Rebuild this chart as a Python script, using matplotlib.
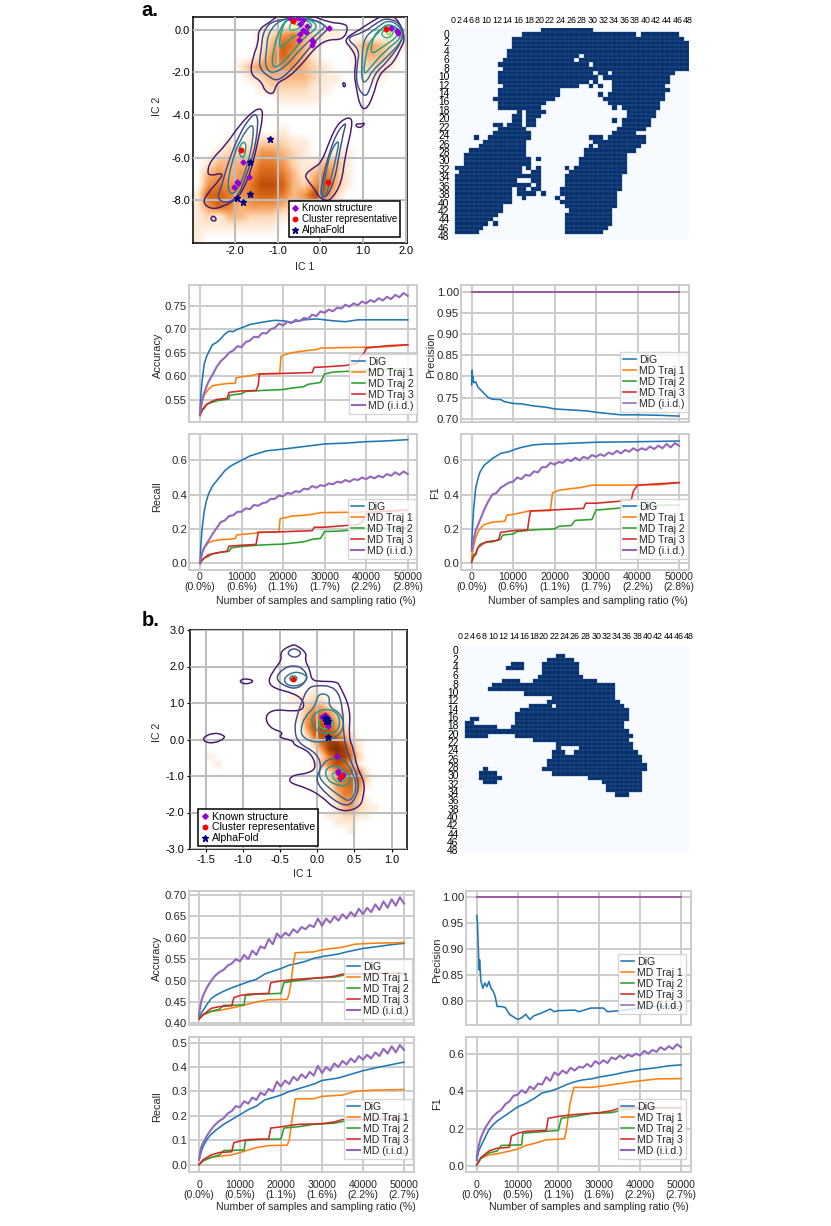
import numpy as np
import matplotlib
matplotlib.use('Agg')
import matplotlib.pyplot as plt
from matplotlib.colors import LinearSegmentedColormap
from matplotlib.lines import Line2D
from matplotlib.path import Path
from matplotlib.patches import PathPatch

W, H = 831, 1226
plt.rcParams['font.family'] = ['Liberation Sans', 'DejaVu Sans']
plt.rcParams['axes.unicode_minus'] = False
FS = 7.9

SERIES = ['DiG', 'MD Traj 1', 'MD Traj 2', 'MD Traj 3', 'MD (i.i.d.)']
COLORS = ['#1f77b4', '#ff7f0e', '#2ca02c', '#d62728', '#9467bd']
LEVEL_COLORS = ['#47186e', '#3f4a8a', '#31708e', '#26958c', '#1fa187', '#35b779', '#8fd744']

##### density of the IC maps, one digit per cell #####
density_a = [
    '',
    '00000012453211000011',
    '00000013653100024321',
    '00000024643100013320',
    '00001344443210012210',
    '00000123333211001100',
    '00000012222110000000',
    '00000000111100000000',
    '',
    '',
    '000000001',
    '00010122211',
    '001222443210011',
    '013333554211331',
    '034344665313531',
    '045445776324631',
    '16654566534752',
    '14653444323421',
    '121332221111',
    '11111111',
    '1',
]
density_b = [
    '0000000000000001',
    '00000000000011121',
    '000000000000012331',
    '00000000000001355421',
    '00000000000001466531',
    '00000000000000477642',
    '000000000000002677531',
    '0000000000000003688621',
    '0000000000000001489841',
    '0100000000000000258852',
    '0010000000000001357631',
    '00000000000000000246641',
    '00000000000000000245652',
    '00000000000000000145641',
    '0000000000000000013553',
    '00000000000000000024421',
    '000000000000000000134211',
    '00000000000000000112211',
    '000000000000000000111',
    '000000000000000000001',
]

##### contours of the IC maps (IC 1, IC 2), grouped by level #####
contours_a = [
    [[(-1.18,.36),(-1.45,.02),(-1.45,-.61),(-1.57,-1.23),(-1.65,-2.09),(-1.38,-2.41),(-1.30,-2.88),(-1.10,-3.06),
      (-1.02,-2.48),(-.75,-2.25),(-.40,-1.55),(-.16,-.92),(.15,-.45),(.54,-.47),(.66,.12),(.54,.30),(.23,.33),(-.24,.70),(-.95,.72)],
     [(.54,-.45),(.93,.02),(1.16,.33),(1.48,.70),(1.79,.62),(2.0,-.38),(1.87,-.92),(1.71,-1.55),(1.55,-1.78),(1.36,-2.17),
      (1.24,-3.11),(1.07,-3.77),(.93,-3.58),(.85,-2.80),(.79,-2.09),(.85,-1.31),(.72,-.85)],
     [(-1.38,-3.66),(-1.34,-4.05),(-1.45,-5.14),(-1.61,-6.55),(-1.77,-7.33),(-1.92,-7.88),(-2.27,-8.3),(-2.55,-8.42),
      (-2.76,-8.11),(-2.63,-7.64),(-2.35,-7.02),(-2.27,-6.7),(-2.59,-6.86),(-2.65,-6.63),(-2.55,-6.08),(-2.23,-5.45),(-1.88,-4.44),(-1.57,-3.81)],
     [(.7,-4.05),(.76,-4.44),(.58,-5.92),(.5,-7.17),(.27,-7.95),(.11,-8.03),(-.05,-7.8),(-.13,-7.48),(-.32,-7.02),
      (-.36,-6.78),(-.16,-6.47),(.03,-6.23),(.23,-5.14),(.42,-4.36)],
     [(.81,-4.42),(.95,-4.42),(1.05,-4.36),(.98,-4.55),(.88,-4.6)],
     [(-2.5,-8.7),(-2.42,-8.9),(-2.5,-9.0),(-2.58,-8.85)],
     [(.55,-2.45),(.6,-2.6),(.55,-2.7),(.52,-2.55)]],
    [[(-1.34,-.06),(-1.38,-.92),(-1.45,-1.78),(-1.18,-2.25),(-.98,-2.41),(-.63,-1.78),(-.32,-1.0),(.03,-.22),(.23,.09),(-.24,.56),(-1.10,.48)],
     [(.58,-.38),(1.01,-.14),(1.32,.33),(1.55,.56),(1.87,.33),(1.98,-.38),(1.55,-1.55),(1.28,-2.02),(1.16,-2.8),(1.05,-3.19),(.85,-2.64),(.85,-1.7),(.93,-.92)],
     [(-1.49,-3.89),(-1.45,-4.52),(-1.57,-5.92),(-1.77,-7.02),(-1.92,-7.8),(-2.16,-8.14),(-2.43,-7.95),(-2.31,-7.33),(-2.16,-6.23),(-1.88,-4.83),(-1.65,-4.13)],
     [(.62,-4.28),(.54,-4.83),(.42,-6.08),(.34,-7.02),(.15,-7.88),(-.01,-7.8),(.07,-6.86),(.19,-5.92),(.38,-4.83)]],
    [[(-1.22,-.14),(-1.26,-.92),(-1.30,-1.70),(-1.14,-2.09),(-.79,-1.70),(-.48,-.92),(0,-.06),(.15,.25),(-.4,.64),(-.95,.48)],
     [(1.01,-.38),(1.32,.09),(1.59,.48),(1.87,.17),(1.96,-.42),(1.55,-1.31),(1.2,-1.94),(1.1,-2.41),(.97,-2.48),(.97,-1.55)],
     [(-1.57,-4.28),(-1.57,-5.14),(-1.69,-6.23),(-1.88,-7.33),(-2.08,-7.8),(-2.18,-7.33),(-2.08,-6.23),(-1.88,-5.14)],
     [(.46,-5.14),(.34,-6.23),(.23,-7.17),(.11,-7.88),(.05,-7.8),(.15,-6.39),(.3,-5.45)]],
    [[(-.98,-.14),(-1.10,-.92),(-1.14,-1.78),(-.95,-1.70),(-.63,-1.0),(-.40,-.38),(0,.17),(-.4,.64),(-.79,.56)],
     [(1.13,-.61),(1.36,-.14),(1.55,.3),(1.83,.09),(1.91,-.38),(1.55,-.92),(1.2,-1.7),(1.01,-2.17),(1.05,-1.39)],
     [(-1.77,-5.22),(-1.73,-5.53),(-1.8,-6.08),(-1.92,-5.77),(-1.87,-5.38)]],
    [[(-.91,.02),(-.98,-.92),(-.79,-.61),(-.63,-.3),(-.09,.17),(-.48,.61),(-.79,.48)],
     [(1.24,-.3),(1.4,.02),(1.59,.25),(1.79,.02),(1.83,-.3),(1.48,-.77),(1.16,-1.23)]],
    [[(-.71,.33),(-.73,-.14),(-.32,.25),(-.55,.56)],
     [(1.4,-.22),(1.55,.09),(1.75,-.06),(1.59,-.45)]],
    [[(-.63,.48),(-.48,.25),(-.55,.2),(-.65,.3)],
     [(1.52,.02),(1.67,-.06),(1.59,-.3)]],
]
contours_b = [
    [[(-.35,2.59),(-.5,2.41),(-.48,2.18),(-.57,1.95),(-.67,1.61),(-.59,1.4),(-.32,1.27),(-.19,1.08),(-.18,.83),(-.32,.77),(-.59,.83),
      (-.71,.63),(-.64,.31),(-.45,.19),(-.53,.06),(-.32,-.03),(-.32,-.15),(-.1,-.33),(-.01,-.74),(-.1,-.92),(-.35,-.98),(-.39,-1.18),
      (-.14,-1.33),(.06,-1.56),(.22,-1.88),(.4,-1.98),(.58,-1.83),(.62,-1.56),(.64,-1.19),(.53,-.74),(.49,-.28),(.42,.08),(.45,.81),
      (.31,1.45),(.26,1.59),(.04,1.59),(-.08,1.63),(-.1,1.91),(-.17,2.18),(-.14,2.36),(-.28,2.59)],
     [(-1.55,.05),(-1.4,.19),(-1.27,.13),(-1.24,.04),(-1.38,-.1),(-1.51,-.08)],
     [(-1.06,1.6),(-.97,1.68),(-.84,1.6),(-.97,1.5)]],
    [[(-.42,2.36),(-.32,2.52),(-.2,2.38),(-.3,2.22)],
     [(-.57,1.68),(-.46,1.95),(-.32,2.04),(-.19,1.95),(-.12,1.68),(-.26,1.38),(-.44,1.45)],
     [(-.05,1.49),(.26,1.45),(.35,.81),(.35,.08),(.42,-.46),(.58,-1.19),(.49,-1.74),(.35,-1.83),(.1,-1.47),(-.03,-1.1),(.06,-.74),
      (-.01,-.37),(-.26,-.1),(-.31,.26),(-.28,.63),(-.19,1.13),(-.14,1.36)]],
    [[(-.46,1.68),(-.32,1.86),(-.19,1.81),(-.12,1.68),(-.23,1.47),(-.41,1.47)],
     [(.01,1.27),(.17,1.22),(.15,.9),(.31,.72),(.37,.36),(.26,.04),(-.01,-.1),(-.19,.04),(-.23,.26),(-.17,.63),(-.03,.9)],
     [(.17,-.51),(.35,-.51),(.49,-.92),(.53,-1.38),(.44,-1.72),(.31,-1.56),(.13,-1.29),(.01,-1.01),(.06,-.69)]],
    [[(-.39,1.68),(-.32,1.77),(-.26,1.68),(-.32,1.56)],
     [(-.1,.58),(.04,.83),(.22,.81),(.31,.58),(.28,.22),(.13,.15),(-.03,.26)],
     [(.1,-.83),(.22,-.69),(.37,-.83),(.46,-1.06),(.4,-1.29),(.24,-1.24),(.13,-1.1)]],
    [],
    [[(-.01,.49),(.13,.67),(.24,.49),(.19,.31),(.06,.28)],
     [(.19,-.92),(.31,-.83),(.4,-1.06),(.33,-1.19),(.22,-1.12)]],
    [],
]

##### points on the IC maps #####
known_a = [(-.71,.56),(-.63,.48),(-.53,.56),(-.4,.45),(-.48,.25),(-.32,.2),(-.4,-.02),(-.48,-.22),(-.34,-.11),(-.5,-.48),(-.2,-.48),
           (-.16,-.58),(-.19,-.72),(.21,.09),(1.79,-.06),(1.83,-.14),(1.65,.1),(-1.82,-6.2),(-1.95,-7.15),(-2.02,-7.35),(-1.67,-6.9),(-1.92,-7.2)]
rep_a = [(-.63,.4),(1.55,.05),(-1.85,-5.65),(.17,-7.12)]
af_a = [(-1.18,-5.1),(-1.65,-6.2),(-1.65,-7.7),(-1.94,-7.88),(-1.82,-8.1)]
known_b = [(.06,.61),(.1,.67),(.13,.63),(.15,.49),(.15,.36),(.26,-.45),(.28,-.86),(.3,-1.06),(.35,-.98),(.28,-.92)]
rep_b = [(-.33,1.67),(.13,.5),(.32,-1.0)]
af_b = [(.1,.6),(.13,.55),(.15,.5),(.12,.52),(.14,.08)]

##### contact maps: filled runs (first col, stop col) per row #####
contact_a = [
    [(18,29)], [(14,38),(39,47)], [(12,48)], [(12,49)], [(12,49)], [(11,49)], [(11,26),(27,49)], [(10,25),(26,49)],
    [(9,28),(29,49)], [(10,49)], [(9,29),(30,32),(33,46)], [(9,30),(31,45)], [(9,28),(29,30),(33,45)],
    [(10,26),(28,29),(30,31),(33,44)], [(9,22),(33,45)], [(9,22),(30,31),(32,44)], [(8,21),(31,44)], [(9,19),(32,43)],
    [(9,18),(33,34),(35,43)], [(13,14),(15,19),(36,42)], [(12,14),(15,18),(36,42)], [(12,14),(15,17),(33,34),(35,41)],
    [(8,10),(11,14),(15,17),(35,41)], [(9,15),(34,40)], [(8,16),(33,38)], [(4,5),(7,16),(28,31),(32,40)],
    [(6,15),(29,40)], [(5,15),(28,29),(30,39)], [(3,15),(27,38)], [(2,15),(27,36)], [(2,16),(17,18),(26,36)],
    [(2,16),(26,36)], [(0,14),(15,16),(17,18),(23,24),(25,36)], [(1,14),(16,18),(24,36)], [(0,18),(23,35)],
    [(0,13),(16,18),(23,35)], [(0,16),(17,18),(23,35)], [(0,12),(13,15),(16,18),(22,35)], [(0,12),(13,17),(18,19),(22,34)],
    [(0,12),(14,15),(21,22),(23,34)], [(0,12),(22,34)], [(0,10),(23,34)], [(0,10),(24,33)], [(0,9),(23,33)],
    [(0,8),(23,33)], [(0,7),(8,9),(23,33)], [(0,6),(23,32)], [(0,5),(23,31)],
]
contact_b = [
    [], [],
    [(21,23)], [(19,25)], [(11,14),(18,26)], [(10,14),(18,26)], [(18,26)], [(17,27)], [(9,13),(16,30)], [(7,34)], [(6,34)],
    [(14,34)], [(20,34)], [(19,35)], [(15,20),(21,36)], [(13,37)], [(12,37)], [(2,4),(12,37)], [(1,3),(12,36)], [(1,8),(11,36)],
    [(1,37)], [(1,6),(12,38)], [(16,37)], [(21,38)], [(21,22),(26,38)], [(20,23),(25,39)], [(20,40)], [(19,40)], [(19,41)],
    [(5,6),(18,41)], [(4,8),(20,40)], [(4,9),(28,40)], [(5,8),(31,40)], [(32,40)], [(32,40)], [(34,37)],
]
contact_ticks = list(range(0, 49, 2))

##### metric curves #####
IID_X = [0, 500] + list(range(1000, 50001, 1000))
FLAT_X, FLAT_Y = [0, 50000], [1.0, 1.0]

a_acc = [
    ([0,200,500,1000,1500,2000,3000,4000,5000,6000,7000,8000,9000,10000,12000,15000,18000,20000,22000,25000,28000,30000,32000,35000,38000,40000,45000,50000],
     [.52,.56,.59,.625,.64,.65,.667,.672,.68,.69,.696,.695,.70,.703,.71,.715,.719,.718,.715,.72,.722,.72,.718,.716,.72,.72,.72,.72]),
    ([0,500,1000,2000,3000,5000,7000,8500,8700,10000,12000,14000,17000,19200,19500,20000,22000,25000,28000,29000,35000,45000,50000],
     [.52,.545,.56,.572,.58,.583,.585,.585,.597,.599,.601,.605,.606,.606,.642,.645,.65,.654,.657,.66,.661,.663,.667]),
    ([0,1000,2000,4000,7000,7200,10000,11000,15000,20000,22000,25000,26000,29000,30000,32000,40000,50000],
     [.517,.535,.542,.548,.552,.56,.563,.568,.57,.572,.575,.578,.583,.587,.605,.609,.613,.616]),
    ([0,500,1000,1500,2500,4000,6500,7000,10000,13500,14000,14300,19000,27000,27500,30000,35000,38000,38500,39500,40000,43000,45000,50000],
     [.517,.53,.532,.54,.545,.551,.553,.566,.569,.57,.58,.605,.606,.608,.619,.62,.623,.628,.64,.65,.66,.663,.665,.667]),
    (IID_X,
     [.52,.55,
      .565,.588,.603,.620,.632,.640,.650,.655,.664,.662,
      .673,.676,.684,.683,.692,.691,.700,.703,.712,.708,
      .716,.713,.720,.717,.724,.722,.731,.728,.738,.735,
      .742,.738,.746,.744,.752,.748,.755,.751,.759,.755,
      .762,.758,.766,.761,.769,.764,.773,.768,.777,.771]),
]
a_pre = [
    ([0,100,150,200,300,500,1000,1500,2000,3000,4000,5000,7000,8000,10000,12000,15000,18000,20000,25000,28000,30000,33000,36000,40000,45000,50000],
     [.78,.80,.815,.79,.80,.785,.787,.775,.77,.76,.75,.746,.745,.74,.736,.735,.73,.727,.723,.72,.718,.715,.712,.709,.709,.708,.706]),
    (FLAT_X, FLAT_Y), (FLAT_X, FLAT_Y), (FLAT_X, FLAT_Y), (FLAT_X, FLAT_Y),
]
a_rec = [
    ([0,200,500,1000,1500,2000,3000,4000,5000,6000,7000,8000,10000,12000,14000,16000,18000,20000,25000,30000,35000,40000,45000,50000],
     [0,.1,.2,.3,.36,.4,.45,.48,.51,.54,.56,.575,.6,.625,.64,.655,.66,.665,.68,.695,.70,.708,.713,.72]),
    ([0,500,1000,2000,3000,5000,7000,8500,8800,10000,13000,14000,19000,19300,20500,22000,25000,27000,29000,35000,38000,39000,50000],
     [0,.06,.09,.12,.13,.138,.14,.145,.165,.168,.175,.18,.183,.26,.265,.275,.28,.285,.295,.297,.295,.30,.31]),
    ([0,1000,2000,3000,5000,7000,7500,9000,11000,15000,20000,23000,25000,27000,29000,30000,33000,40000,50000],
     [0,.03,.04,.055,.065,.07,.09,.095,.1,.107,.112,.12,.125,.14,.145,.185,.187,.2,.205]),
    ([0,500,1000,2000,4000,6500,7000,10000,13500,14000,19000,27000,27500,30000,35000,38000,39000,40000,43000,50000],
     [0,.02,.03,.05,.06,.07,.1,.105,.11,.18,.183,.19,.21,.21,.22,.225,.24,.29,.3,.31]),
    (IID_X,
     [0,.06,
      .09,.13,.17,.205,.24,.25,.275,.28,.30,.30,
      .32,.315,.34,.335,.35,.355,.375,.375,.395,.39,
      .41,.405,.42,.415,.435,.43,.45,.44,.455,.45,
      .465,.46,.475,.47,.485,.475,.49,.485,.50,.49,
      .505,.495,.51,.50,.52,.51,.53,.515,.535,.52]),
]
a_f1 = [
    ([0,200,500,1000,1500,2000,3000,4000,5000,7000,9000,10000,12000,15000,18000,20000,25000,30000,40000,50000],
     [.09,.2,.32,.44,.49,.53,.57,.59,.61,.64,.65,.66,.675,.69,.695,.695,.70,.705,.708,.712]),
    ([0,500,1000,1500,2000,3000,5000,8000,8500,10000,13000,14000,19000,19500,21000,24000,26000,29000,35000,45000,50000],
     [.03,.1,.15,.18,.2,.225,.24,.245,.28,.285,.3,.305,.307,.41,.425,.435,.44,.455,.455,.457,.47]),
    ([0,500,1000,1500,2000,3000,5000,7000,7500,10000,11000,15000,20000,21000,24000,25000,29000,30000,35000,40000,50000],
     [.01,.05,.06,.09,.11,.12,.125,.14,.165,.17,.185,.195,.2,.215,.22,.25,.255,.31,.32,.335,.34]),
    ([0,500,1000,1500,2500,3500,6500,7000,10000,13500,13800,14200,19000,27000,27500,30000,35000,38500,39000,40000,43000,50000],
     [.005,.04,.05,.09,.11,.125,.135,.18,.19,.195,.25,.305,.31,.32,.35,.35,.36,.37,.42,.455,.46,.47]),
    (IID_X,
     [.07,.14,
      .19,.25,.31,.36,.40,.41,.44,.455,.47,.475,
      .50,.49,.515,.51,.535,.53,.56,.56,.585,.575,
      .59,.585,.605,.595,.615,.60,.62,.61,.63,.62,
      .635,.625,.645,.635,.655,.64,.66,.65,.67,.655,
      .67,.66,.68,.665,.685,.67,.695,.675,.70,.685]),
]
b_acc = [
    ([0,1000,2000,3000,4000,6000,8000,10000,12000,14000,16000,18000,20000,22000,24000,26000,28000,30000,34000,36000,40000,44000,47000,50000],
     [.415,.43,.445,.458,.465,.475,.483,.49,.497,.503,.515,.522,.528,.536,.54,.545,.552,.556,.562,.567,.575,.58,.584,.587]),
    ([0,1000,3000,5000,8000,10000,12000,14000,17000,21500,22000,22500,23000,23500,28000,30000,35000,38000,42000,50000],
     [.41,.42,.428,.43,.436,.44,.445,.45,.455,.456,.47,.50,.54,.565,.567,.572,.578,.585,.587,.589]),
    ([0,1000,3000,5000,6000,11000,11300,14000,20000,20700,24000,28000,33000,36000,40000,50000],
     [.41,.42,.428,.433,.442,.443,.465,.468,.47,.495,.5,.505,.508,.514,.516,.517]),
    ([0,1000,3000,5000,8000,8500,10000,12000,17000,17500,20000,24000,30000,33000,35000,50000],
     [.41,.42,.435,.439,.441,.46,.465,.468,.47,.495,.499,.503,.507,.51,.515,.517]),
    (IID_X,
     [.42,.45,
      .465,.485,.50,.512,.52,.525,.535,.54,.55,.545,
      .56,.55,.57,.56,.58,.575,.597,.585,.61,.60,
      .612,.605,.62,.612,.625,.62,.63,.625,.645,.628,
      .645,.635,.65,.64,.655,.645,.66,.65,.668,.655,
      .67,.66,.678,.665,.685,.67,.69,.675,.695,.68]),
]
b_pre = [
    ([0,200,400,600,700,1000,1500,2000,2500,3000,3500,4000,4500,5000,6000,7000,8000,9000,10000,11000,12000,13000,14000,16000,18000,19000,20000,24000,25000,28000,31000,32000,35000,38000,42000,46000,50000],
     [.965,.95,.90,.86,.88,.84,.825,.835,.828,.838,.825,.82,.81,.79,.79,.788,.775,.77,.765,.768,.775,.765,.772,.778,.785,.78,.782,.783,.78,.787,.787,.78,.782,.785,.79,.79,.79]),
    (FLAT_X, FLAT_Y), (FLAT_X, FLAT_Y), (FLAT_X, FLAT_Y), (FLAT_X, FLAT_Y),
]
b_rec = [
    ([0,500,1000,2000,3000,4000,6000,8000,10000,12000,14000,16000,18000,20000,22000,24000,26000,28000,30000,34000,36000,40000,44000,47000,50000],
     [.02,.05,.075,.105,.125,.14,.165,.185,.205,.225,.24,.265,.275,.285,.30,.31,.32,.33,.345,.355,.365,.385,.40,.41,.42]),
    ([0,1000,3000,5000,8000,10000,12000,14000,17000,21500,22000,22800,23500,28000,30000,35000,38000,42000,50000],
     [0,.02,.03,.035,.04,.05,.06,.07,.078,.08,.1,.2,.27,.27,.28,.285,.30,.305,.308]),
    ([0,1000,3000,5000,6000,11000,11300,14000,20000,20700,24000,28000,33000,36000,40000,50000],
     [0,.015,.03,.04,.058,.06,.098,.103,.105,.15,.155,.165,.17,.18,.185,.187]),
    ([0,1000,3000,5000,8000,8500,10000,12000,17000,17500,20000,24000,30000,33000,35000,50000],
     [0,.02,.04,.05,.053,.09,.097,.103,.105,.15,.155,.165,.168,.175,.185,.187]),
    (IID_X,
     [.02,.07,
      .09,.12,.145,.165,.18,.19,.21,.22,.24,.235,
      .26,.25,.275,.265,.295,.285,.31,.30,.34,.32,
      .345,.33,.36,.345,.37,.355,.38,.365,.405,.375,
      .40,.385,.415,.40,.425,.41,.435,.42,.445,.43,
      .45,.435,.46,.445,.475,.455,.485,.46,.49,.47]),
]
b_f1 = [
    ([0,500,1000,2000,3000,4000,5000,7000,9000,10000,12000,14000,16000,18000,20000,22000,24000,26000,28000,30000,34000,36000,40000,44000,47000,50000],
     [.03,.08,.105,.15,.195,.22,.24,.27,.30,.315,.335,.36,.39,.40,.415,.435,.45,.46,.465,.475,.49,.50,.515,.525,.535,.54]),
    ([0,1000,3000,5000,8000,10000,12000,14000,17000,21500,22000,22800,23800,28000,30000,35000,38000,40000,44000,50000],
     [.005,.04,.06,.065,.08,.09,.11,.12,.14,.145,.2,.33,.42,.42,.425,.44,.45,.455,.465,.467]),
    ([0,1000,3000,5000,6000,11000,11300,14000,20000,20700,24000,28000,33000,36000,40000,50000],
     [.005,.04,.07,.08,.11,.113,.175,.18,.19,.255,.265,.28,.285,.30,.31,.31]),
    ([0,1000,3000,5000,8000,8500,10000,12000,17000,17500,20000,24000,30000,33000,35000,50000],
     [.005,.045,.08,.095,.10,.16,.175,.185,.19,.255,.265,.275,.285,.295,.31,.312]),
    (IID_X,
     [.05,.11,
      .15,.20,.235,.265,.285,.30,.33,.345,.375,.38,
      .405,.39,.425,.41,.44,.435,.475,.455,.50,.485,
      .51,.495,.525,.51,.53,.525,.545,.53,.56,.545,
      .565,.55,.58,.57,.59,.575,.595,.585,.60,.59,
      .615,.60,.62,.61,.635,.62,.64,.625,.65,.635]),
]
sample_ticks = [0, 10000, 20000, 30000, 40000, 50000]
ratios_a = ['0.0', '0.6', '1.1', '1.7', '2.2', '2.8']
ratios_b = ['0.0', '0.5', '1.1', '1.6', '2.2', '2.7']


fig = plt.figure(figsize=(W/100, H/100), dpi=100)

def px_axes(left, top, right, bottom):
    return fig.add_axes([left/W, 1-bottom/H, (right-left)/W, (bottom-top)/H])

def px_text(x, y, s, **kw):
    kw.setdefault('ha', 'center')
    kw.setdefault('va', 'center')
    kw.setdefault('fontsize', FS)
    fig.text(x/W, 1-y/H, s, **kw)

density_cmap = LinearSegmentedColormap.from_list('dens', ['#ffffff', '#fddcbc', '#f6a564', '#e0701f', '#b84a08', '#7f2f04'])

def smooth_loop(shape):
    # closed quadratic curve through the midpoints, the contours are not angular in the figure
    pts = np.array(shape)
    mids = (pts + np.roll(pts, -1, axis=0)) / 2
    verts, codes = [mids[-1]], [Path.MOVETO]
    for p, m in zip(pts, mids):
        verts += [p, m]
        codes += [Path.CURVE3, Path.CURVE3]
    return Path(verts, codes)

def ic_map(box, xlim, ylim, xticks, yticks, dens, extent, width, vmax, contours, known, rep, af, leg_xy, leg_fs, tick_len):
    ax = px_axes(*box)
    grid = np.array([[int(c) for c in r.ljust(width, '0')] for r in dens])
    ax.imshow(grid, extent=extent, cmap=density_cmap, vmin=0, vmax=vmax, aspect='auto', interpolation='bilinear', zorder=0)
    ax.set_xlim(*xlim)
    ax.set_ylim(*ylim)
    ax.set_xticks(xticks)
    ax.set_yticks(yticks)
    ax.set_xticklabels(['%.1f' % t for t in xticks])
    ax.set_yticklabels(['%.1f' % t for t in yticks])
    ax.tick_params(labelsize=FS, length=tick_len, width=.8, pad=2)
    ax.grid(True, color='#bdbdbd', lw=1.5)
    ax.set_axisbelow(False)
    for s in ax.spines.values():
        s.set_linewidth(1.1)
    for col, shapes in zip(LEVEL_COLORS, contours):
        for shape in shapes:
            ax.add_patch(PathPatch(smooth_loop(shape), fill=False, edgecolor=col, lw=1.05, zorder=3))
    ax.plot(*zip(*known), ls='', marker='D', ms=2.6, color='#9400d3', zorder=4)
    ax.plot(*zip(*rep), ls='', marker='o', ms=3.2, color='red', zorder=5)
    ax.plot(*zip(*af), ls='', marker='*', ms=5, color='navy', zorder=6)
    handles = [Line2D([], [], ls='', marker='D', ms=2.8, color='#9400d3'),
               Line2D([], [], ls='', marker='o', ms=3.2, color='red'),
               Line2D([], [], ls='', marker='*', ms=5, color='navy')]
    leg = ax.legend(handles, ['Known structure', 'Cluster representative', 'AlphaFold'], loc='upper left',
                    bbox_to_anchor=(leg_xy[0]/W, 1-leg_xy[1]/H), bbox_transform=fig.transFigure, borderaxespad=0,
                    fontsize=leg_fs, fancybox=False, framealpha=1, edgecolor='black', borderpad=.25, labelspacing=.08,
                    handlelength=.8, handletextpad=.3)
    leg.get_frame().set_linewidth(1.1)
    leg.set_zorder(10)
    return ax

def contact_map(box, xlim, ylim, rows, x_label_pos, y_label_pos, top_pad):
    ax = px_axes(*box)
    n = 50
    grid = np.zeros((n, n))
    for r, runs in enumerate(rows):
        for a, b in runs:
            grid[r, a:b] = 1
            ax.vlines(np.arange(a, b+1), r, r+1, colors='#2c5a96', lw=.25, zorder=2)
            ax.hlines([r, r+1], a, b, colors='#2c5a96', lw=.25, zorder=2)
    ax.set_facecolor('#f7fbff')
    ax.pcolormesh(np.arange(n+1), np.arange(n+1), np.ma.masked_equal(grid, 0), cmap='Blues', vmin=0, vmax=1, zorder=1)
    ax.set_xlim(*xlim)
    ax.set_ylim(*ylim)
    ax.xaxis.tick_top()
    ax.set_xticks(x_label_pos)
    ax.set_yticks(y_label_pos)
    ax.set_xticklabels(contact_ticks)
    ax.set_yticklabels(contact_ticks, rotation=0)
    ax.tick_params(axis='x', labelsize=6.4, length=0, pad=top_pad)
    ax.tick_params(axis='y', labelsize=7.4, length=0, pad=1)
    for s in ax.spines.values():
        s.set_visible(False)
    return ax

def metric_ax(box, xlim, ylim, yticks, yfmt, curves, leg_xy, ratios=None, pad=1.5):
    ax = px_axes(*box)
    for (x, y), col, name in zip(curves, COLORS, SERIES):
        lw = 1.5 if name == 'MD (i.i.d.)' and len(x) > 2 else 1.15
        ax.plot(x, y, color=col, lw=lw, label=name)
    ax.set_xlim(*xlim)
    ax.set_ylim(*ylim)
    ax.set_xticks(sample_ticks)
    ax.set_yticks(yticks)
    ax.set_yticklabels([yfmt % t for t in yticks])
    if ratios:
        ax.set_xticklabels(['%d\n(%s%%)' % (t, r) for t, r in zip(sample_ticks, ratios)], linespacing=1.0)
    else:
        ax.tick_params(axis='x', labelbottom=False)
    ax.tick_params(axis='x', labelsize=7.6, length=0, pad=pad, labelcolor='#262626')
    ax.tick_params(axis='y', labelsize=8.2, length=0, pad=1.5, labelcolor='#262626')
    ax.grid(True, color='#cccccc', lw=1.4)
    ax.set_axisbelow(True)
    for s in ax.spines.values():
        s.set_color('#cccccc')
        s.set_linewidth(1.4)
    ax.legend(loc='upper left', bbox_to_anchor=(leg_xy[0]/W, 1-leg_xy[1]/H), bbox_transform=fig.transFigure,
              borderaxespad=0, fontsize=7.6, fancybox=False, framealpha=.8, edgecolor='#cccccc', borderpad=.3,
              labelspacing=.08, handlelength=1.2, handletextpad=.3, labelcolor='#262626')
    return ax


##### panel a #####
ic_map((193, 17, 407, 243), (-2.98, 2.03), (-10, .6), [-2, -1, 0, 1, 2], [0, -2, -4, -6, -8],
       density_a, (-3, 2, -10, .5), 20, 9, contours_a, known_a, rep_a, af_a, (289, 201), 7.0, 0)
contact_map((451, 28, 689, 239), (-.77, 49), (49.1, 0), contact_a,
            (np.array([100,118,137,155,173,200,232,264,296,328,358,390,421,455,486,517,550,581,613,645,677,709,741,772,804])-105)/14.33,
            (np.array([103+25.3*i for i in range(25)])-85)/12.9, 2.5)

x_left_a, x_right_a = (-2648, 52239), (-2552, 52407)
metric_ax((189, 285, 417, 422), x_left_a, (.503, .794), [.55, .60, .65, .70, .75], '%.2f', a_acc, (349, 354))
metric_ax((461, 285, 689, 422), x_right_a, (.692, 1.0167), [.70, .75, .80, .85, .90, .95, 1.0], '%.2f', a_pre, (620, 352))
metric_ax((189, 434, 417, 570), x_left_a, (-.039, .753), [0, .2, .4, .6], '%.1f', a_rec, (348, 499), ratios_a)
metric_ax((461, 434, 689, 570), x_right_a, (-.039, .753), [0, .2, .4, .6], '%.1f', a_f1, (620, 499), ratios_a)

##### panel b #####
ic_map((190, 630, 407, 849), (-1.716, 1.208), (-3, 3), [-1.5, -1, -.5, 0, .5, 1], [3, 2, 1, 0, -1, -2, -3],
       density_b, (-1.6, .8, -2.6, 1.4), 24, 9, contours_b, known_b, rep_b, af_b, (198, 809), 7.6, 2)
contact_map((460, 646, 689, 853), (0, 49.9), (49.43, .18), contact_b,
            (np.array([118,136,154,172,190,218,250,282,312,342,372,404,434,466,498,530,562,592,623,655,685,717,749,780,811])-120)/13.75,
            (np.array([90+25.1*i for i in range(25)])-74.7)/12.65, 3.5)

x_left_b, x_right_b = (-2443, 52443), (-2619, 52447)
metric_ax((189, 891, 414, 1025), x_left_b, (.396, .7094), [.40, .45, .50, .55, .60, .65, .70], '%.2f', b_acc, (344, 959))
metric_ax((466, 891, 691, 1025), x_right_b, (.7544, 1.012), [.80, .85, .90, .95, 1.0], '%.2f', b_pre, (618, 954))
metric_ax((189, 1037, 414, 1172), x_left_b, (-.03, .523), [0, .1, .2, .3, .4, .5], '%.1f', b_rec, (344, 1099), ratios_b, pad=6)
metric_ax((466, 1037, 691, 1172), x_right_b, (-.032, .689), [0, .2, .4, .6], '%.1f', b_f1, (618, 1099), ratios_b, pad=6)

##### labels placed by hand #####
px_text(150, 10, 'a.', fontsize=14.5, fontweight='bold')
px_text(151, 620, 'b.', fontsize=14.5, fontweight='bold')
px_text(305, 267, 'IC 1', color='#262626', fontsize=7.6)
px_text(157, 106, 'IC 2', rotation=90, color='#262626', fontsize=7.6)
px_text(303, 874, 'IC 1', color='#262626', fontsize=7.6)
px_text(157, 732, 'IC 2', rotation=90, color='#262626', fontsize=7.6)
for x, y, s in [(158, 355, 'Accuracy'), (157, 497, 'Recall'), (431, 355, 'Precision'), (435, 493, 'F1'),
                (157, 958, 'Accuracy'), (157, 1107, 'Recall'), (437, 960, 'Precision'), (437, 1104, 'F1')]:
    px_text(x, y, s, rotation=90, color='#262626')
for x, y in [(316, 601), (588, 601), (316, 1207), (589, 1207)]:
    px_text(x, y, 'Number of samples and sampling ratio (%)', color='#262626', fontsize=7.6)

plt.savefig('out.png', dpi=100)
